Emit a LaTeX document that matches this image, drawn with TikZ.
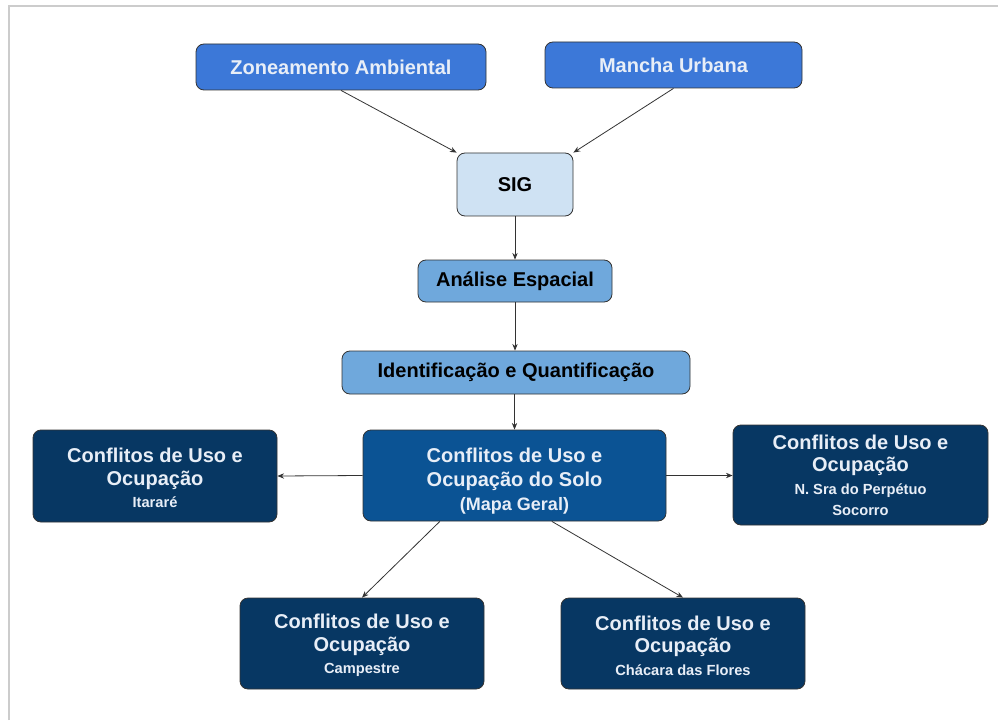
\documentclass[tikz,border=0pt]{standalone}
\usepackage{fontspec}
\setmainfont{Liberation Sans}
\usetikzlibrary{arrows.meta,calc}
\definecolor{topblue}{HTML}{3C78D8}
\definecolor{sigblue}{HTML}{CFE2F3}
\definecolor{midblue}{HTML}{6FA8DC}
\definecolor{mainblue}{HTML}{0B5394}
\definecolor{darkblue}{HTML}{073763}
\definecolor{framegray}{HTML}{CCCCCC}
\definecolor{linegray}{HTML}{333333}
\definecolor{textlight}{HTML}{E8EEF7}
\tikzset{
  box/.style={draw=linegray, line width=0.6pt, rounded corners=6pt, align=center, font=\bfseries\fontsize{15}{18}\selectfont, inner sep=0pt},
  topbox/.style={box, fill=topblue, text=textlight},
  lightbox/.style={box, fill=sigblue, text=black},
  medbox/.style={box, fill=midblue, text=black},
  mainbox/.style={box, fill=mainblue, text=textlight},
  darkbox/.style={box, fill=darkblue, text=textlight, font=\bfseries\fontsize{15}{17}\selectfont},
  conn/.style={draw=linegray, line width=0.6pt, -{Stealth[length=5pt,width=4pt]}},
}
\newcommand{\sml}[1]{{\fontsize{11}{16}\selectfont #1}}
\newcommand{\mdl}[1]{{\fontsize{13.5}{16}\selectfont #1}}
\newcommand{\boxtext}[2][0pt]{\raisebox{-#1}[\height][\depth]{\parbox{160pt}{\centering #2}}}
\begin{document}
\begin{tikzpicture}[x=0.75pt,y=-0.75pt]
\useasboundingbox (0,0) rectangle (998,720);
\fill[white] (0,0) rectangle (998,720);
\draw[framegray, line width=1.5pt] (9,720) -- (9,6) -- (998,6);

\node[topbox, minimum width=290*0.75pt, minimum height=46*0.75pt] (za) at (341,67) {Zoneamento Ambiental};
\node[topbox, minimum width=257*0.75pt, minimum height=46*0.75pt] (mu) at (673.5,65) {Mancha Urbana};
\node[lightbox, minimum width=116*0.75pt, minimum height=63*0.75pt] (sig) at (515,184.5) {SIG};
\node[medbox, minimum width=194*0.75pt, minimum height=42*0.75pt] (ae) at (515,281) {Análise Espacial};
\node[medbox, minimum width=348*0.75pt, minimum height=43*0.75pt] (iq) at (516,372.5) {Identificação e Quantificação};
\node[mainbox, minimum width=303*0.75pt, minimum height=91*0.75pt] (cg) at (514.5,475.5) {\boxtext[4.5pt]{Conflitos de Uso e\\Ocupação do Solo\\\mdl{(Mapa Geral)}}};
\node[darkbox, minimum width=244*0.75pt, minimum height=92*0.75pt] (it) at (155,476) {\boxtext[1.5pt]{Conflitos de Uso e\\Ocupação\\\sml{Itararé}}};
\node[darkbox, minimum width=255*0.75pt, minimum height=100*0.75pt] (ns) at (860.5,475) {\boxtext{Conflitos de Uso e\\Ocupação\\\sml{N. Sra do Perpétuo}\\[-1.5pt]\sml{Socorro}}};
\node[darkbox, minimum width=244*0.75pt, minimum height=91*0.75pt] (ca) at (362,643.5) {\boxtext[1.5pt]{Conflitos de Uso e\\Ocupação\\\sml{Campestre}}};
\node[darkbox, minimum width=244*0.75pt, minimum height=91*0.75pt] (cf) at (683,643.5) {\boxtext[1.5pt]{Conflitos de Uso e\\Ocupação\\\sml{Chácara das Flores}}};

\draw[conn] (za.south) -- (sig.north west);
\draw[conn] (mu.south) -- (sig.north east);
\draw[conn] (sig.south) -- (ae.north);
\draw[conn] (ae.south) -- (iq.north -| ae.south);
\draw[conn] (iq.south -| cg.north) -- (cg.north);
\draw[conn] (cg.west) -- (it.east);
\draw[conn] (cg.east) -- (ns.west |- cg.east);
\draw[conn] ([xshift=-56pt]cg.south) -- (ca.north);
\draw[conn] ([xshift=28pt]cg.south) -- (cf.north);
\end{tikzpicture}
\end{document}
